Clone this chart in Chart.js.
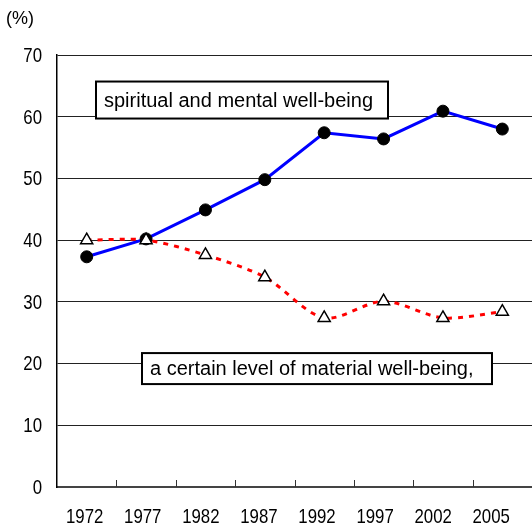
<!DOCTYPE html>
<html>
<head>
<meta charset="utf-8">
<script src="https://cdn.jsdelivr.net/npm/chart.js@4/dist/chart.umd.min.js"></script>
<style>
  html, body { margin: 0; padding: 0; background: #fff; overflow: hidden; }
  #wrap { width: 532px; height: 526px; }
</style>
</head>
<body>
<div id="wrap"><canvas id="chart_wellbeing" width="532" height="526"></canvas></div>
<script>
var years = ['1972', '1977', '1982', '1987', '1992', '1997', '2002', '2005'];
var spiritual = [37.3, 40.2, 44.9, 49.8, 57.4, 56.4, 60.9, 58.0];
var material = [40.0, 40.0, 37.6, 34.0, 27.4, 30.1, 27.4, 28.4];
var yTicks = [0, 10, 20, 30, 40, 50, 60, 70];
var unitLabel = '(%)';
var spiritualLabel = 'spiritual and mental well-being';
var materialLabel = 'a certain level of material well-being,';

var textFont = '"Liberation Sans", Arial, sans-serif';

// narrow tall digits like the original, drawn with a horizontal squeeze
function narrowText(ctx, text, x, y, align) {
  ctx.save();
  ctx.translate(x, y);
  ctx.scale(0.8, 1);
  ctx.font = '21px ' + textFont;
  ctx.textAlign = align;
  ctx.textBaseline = 'middle';
  ctx.fillStyle = '#000';
  ctx.fillText(text, 0, 0);
  ctx.restore();
}

// draws tick labels, the inward tick marks, the unit label and the two boxed labels
var extrasPlugin = {
  id: 'extras',
  afterDraw: function (chart) {
    var ctx = chart.ctx;
    var area = chart.chartArea;
    var x = chart.scales.x;
    var y = chart.scales.y;
    ctx.save();

    // small ticks pointing up from the bottom axis, between categories
    ctx.strokeStyle = '#333';
    ctx.lineWidth = 1;
    for (var i = 1; i < years.length; i++) {
      var px = Math.round(x.getPixelForValue(i - 0.5)) + 0.5;
      ctx.beginPath();
      ctx.moveTo(px, area.bottom);
      ctx.lineTo(px, area.bottom - 7);
      ctx.stroke();
    }

    years.forEach(function (yr, i) {
      narrowText(ctx, yr, x.getPixelForValue(i) - 2 - 1.3 * i, area.bottom + 30, 'center');
    });
    yTicks.forEach(function (v) {
      narrowText(ctx, String(v), area.left - 15, y.getPixelForValue(v) + 1, 'right');
    });

    ctx.fillStyle = '#000';
    ctx.font = '18px ' + textFont;
    ctx.textBaseline = 'middle';
    ctx.textAlign = 'left';
    ctx.fillText(unitLabel, 6, 19);

    function box(text, left, top, w, h) {
      ctx.fillStyle = '#fff';
      ctx.fillRect(left, top, w, h);
      ctx.strokeStyle = '#000';
      ctx.lineWidth = 2;
      ctx.strokeRect(left, top, w, h);
      ctx.fillStyle = '#000';
      ctx.font = '20px ' + textFont;
      ctx.textAlign = 'left';
      ctx.textBaseline = 'middle';
      ctx.fillText(text, left + 8, top + h / 2 + 1);
    }
    box(spiritualLabel, area.left + 39, y.getPixelForValue(65.7), 292, 37);
    box(materialLabel, area.left + 85, y.getPixelForValue(21.7), 350, 31);

    ctx.restore();
  }
};

var ctx = document.getElementById('chart_wellbeing').getContext('2d');
var chartWellbeing = new Chart(ctx, {
  type: 'line',
  data: {
    labels: years,
    datasets: [{
      label: spiritualLabel,
      data: spiritual,
      borderColor: '#0000ff',
      borderWidth: 3,
      tension: 0,
      pointStyle: 'circle',
      pointRadius: 6,
      pointBackgroundColor: '#000',
      pointBorderColor: '#000',
      pointBorderWidth: 1,
      order: 2
    }, {
      label: materialLabel,
      data: material,
      borderColor: '#ff0000',
      borderWidth: 3,
      borderDash: [5, 6],
      tension: 0.3,
      pointStyle: 'triangle',
      pointRadius: 7,
      pointBackgroundColor: '#fff',
      pointBorderColor: '#000',
      pointBorderWidth: 1.5,
      order: 1
    }]
  },
  options: {
    responsive: false,
    animation: false,
    layout: {
      autoPadding: false,
      padding: { top: 55, left: 0, right: -5, bottom: 0 }
    },
    plugins: {
      legend: { display: false },
      tooltip: { enabled: false }
    },
    scales: {
      x: {
        offset: true,
        grid: { display: false, drawTicks: false },
        border: { display: true, color: '#444', width: 2 },
        ticks: { display: false },
        afterFit: function (scale) { scale.height = 39; }
      },
      y: {
        min: 0,
        max: 70,
        afterBuildTicks: function (scale) {
          scale.ticks = yTicks.map(function (v) { return { value: v }; });
        },
        grid: { color: '#222', lineWidth: 1, drawTicks: false },
        border: { display: true, color: '#000', width: 1.5 },
        ticks: { display: false },
        afterFit: function (scale) { scale.width = 57; }
      }
    }
  },
  plugins: [extrasPlugin]
});
</script>
</body>
</html>
